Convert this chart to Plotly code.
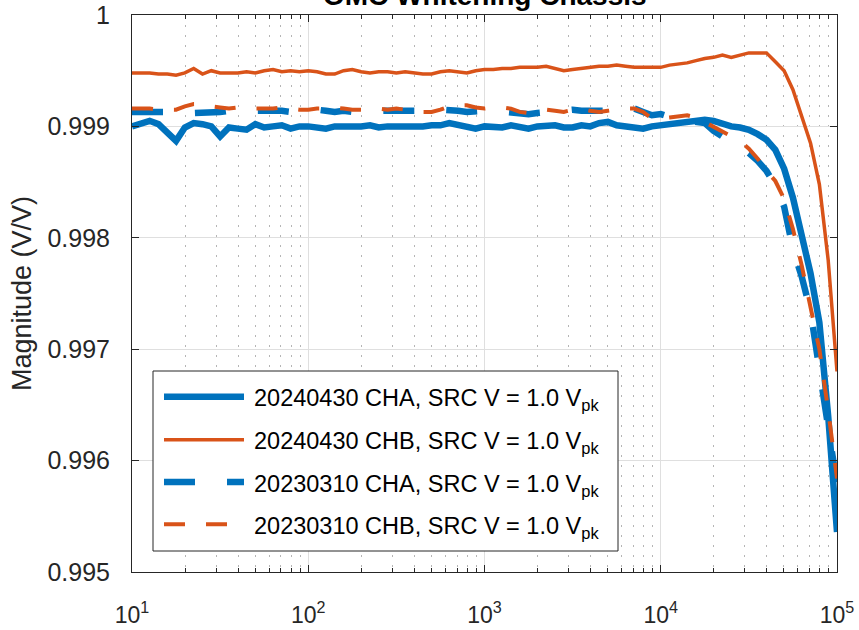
import plotly.graph_objects as go

# ---------------- data ----------------
freq_hz = [10, 11.22, 12.59, 14.13, 15.85, 17.78, 19.95, 22.39, 25.12, 28.18,
           31.62, 35.48, 39.81, 44.67, 50.12, 56.23, 63.10, 70.79, 79.43, 89.13,
           100, 112.2, 125.9, 141.3, 158.5, 177.8, 199.5, 223.9, 251.2, 281.8,
           316.2, 354.8, 398.1, 446.7, 501.2, 562.3, 631.0, 707.9, 794.3, 891.3,
           1000, 1122, 1259, 1413, 1585, 1778, 1995, 2239, 2512, 2818,
           3162, 3548, 3981, 4467, 5012, 5623, 6310, 7079, 7943, 8913,
           10000, 11220, 12590, 14130, 15850, 17780, 19950, 22390, 25120, 28180,
           31620, 35480, 39810, 44670, 50120, 56230, 63100, 70790, 79430, 89130,
           100000]

cha_2024 = [0.99900, 0.99902, 0.99905, 0.99902, 0.99894, 0.99887, 0.99899, 0.99903, 0.99902, 0.99900,
            0.99891, 0.99899, 0.99898, 0.99897, 0.99902, 0.99899, 0.99900, 0.99901, 0.99898, 0.99900,
            0.99900, 0.99899, 0.99898, 0.99900, 0.99900, 0.99899, 0.99900, 0.99901, 0.99899, 0.99900,
            0.99900, 0.99899, 0.99900, 0.99900, 0.99901, 0.99901, 0.99903, 0.99901, 0.99899, 0.99898,
            0.99900, 0.99900, 0.99899, 0.99901, 0.99899, 0.99898, 0.99900, 0.99900, 0.99901, 0.99899,
            0.99899, 0.99901, 0.99900, 0.99903, 0.99904, 0.99901, 0.99900, 0.99899, 0.99898, 0.99900,
            0.99901, 0.99902, 0.99903, 0.99904, 0.99905, 0.99906, 0.99905, 0.99902, 0.99900, 0.99899,
            0.99897, 0.99893, 0.99888, 0.99879, 0.99862, 0.99836, 0.99804, 0.99768, 0.99724, 0.99640,
            0.99536]

chb_2024 = [0.99948, 0.99948, 0.99948, 0.99947, 0.99947, 0.99946, 0.99948, 0.99952, 0.99947, 0.99950,
            0.99948, 0.99948, 0.99948, 0.99949, 0.99948, 0.99950, 0.99951, 0.99949, 0.99950, 0.99949,
            0.99950, 0.99949, 0.99947, 0.99947, 0.99950, 0.99951, 0.99949, 0.99948, 0.99949, 0.99949,
            0.99948, 0.99949, 0.99948, 0.99947, 0.99947, 0.99949, 0.99950, 0.99949, 0.99948, 0.99950,
            0.99951, 0.99951, 0.99952, 0.99952, 0.99953, 0.99953, 0.99953, 0.99954, 0.99952, 0.99950,
            0.99951, 0.99952, 0.99953, 0.99954, 0.99954, 0.99955, 0.99954, 0.99953, 0.99953, 0.99953,
            0.99953, 0.99955, 0.99956, 0.99957, 0.99959, 0.99961, 0.99962, 0.99964, 0.99962, 0.99964,
            0.99966, 0.99966, 0.99966, 0.99958, 0.99950, 0.99933, 0.99908, 0.99885, 0.99848, 0.99780,
            0.99680]

cha_2023 = [0.99913, 0.99913, 0.99914, 0.99914, 0.99914, 0.99914, 0.99913, 0.99912, 0.99912, 0.99912,
            0.99913, 0.99914, 0.99914, 0.99915, 0.99915, 0.99915, 0.99914, 0.99914, 0.99913, 0.99914,
            0.99914, 0.99915, 0.99914, 0.99913, 0.99914, 0.99913, 0.99914, 0.99914, 0.99914, 0.99913,
            0.99914, 0.99914, 0.99913, 0.99914, 0.99914, 0.99915, 0.99915, 0.99914, 0.99913, 0.99914,
            0.99914, 0.99914, 0.99913, 0.99913, 0.99912, 0.99911, 0.99912, 0.99913, 0.99914, 0.99915,
            0.99915, 0.99914, 0.99914, 0.99914, 0.99913, 0.99914, 0.99915, 0.99916, 0.99913, 0.99910,
            0.99911, 0.99908, 0.99906, 0.99905, 0.99904, 0.99903, 0.99896, 0.99891, 0.99886, 0.99880,
            0.99876, 0.99869, 0.99860, 0.99847, 0.99828, 0.99790, 0.99765, 0.99734, 0.99683, 0.99625,
            0.99578]

chb_2023 = [0.99916, 0.99916, 0.99916, 0.99915, 0.99915, 0.99915, 0.99918, 0.99920, 0.99920, 0.99918,
            0.99917, 0.99916, 0.99917, 0.99917, 0.99916, 0.99916, 0.99916, 0.99917, 0.99916, 0.99915,
            0.99915, 0.99916, 0.99916, 0.99917, 0.99916, 0.99915, 0.99915, 0.99916, 0.99916, 0.99915,
            0.99916, 0.99915, 0.99914, 0.99913, 0.99913, 0.99915, 0.99918, 0.99919, 0.99919, 0.99917,
            0.99916, 0.99917, 0.99917, 0.99916, 0.99913, 0.99912, 0.99913, 0.99915, 0.99914, 0.99913,
            0.99915, 0.99916, 0.99914, 0.99913, 0.99914, 0.99915, 0.99916, 0.99916, 0.99913, 0.99907,
            0.99907, 0.99908, 0.99909, 0.99910, 0.99908, 0.99904, 0.99900, 0.99896, 0.99891, 0.99887,
            0.99880, 0.99871, 0.99860, 0.99851, 0.99835, 0.99808, 0.99775, 0.99737, 0.99700, 0.99645,
            0.99584]

series_names = ["20240430 CHA, SRC V = 1.0 V<sub>pk</sub>",
                "20240430 CHB, SRC V = 1.0 V<sub>pk</sub>",
                "20230310 CHA, SRC V = 1.0 V<sub>pk</sub>",
                "20230310 CHB, SRC V = 1.0 V<sub>pk</sub>"]

x_tick_vals = [10, 100, 1000, 10000, 100000]
x_tick_text = ["10<sup>1</sup>", "10<sup>2</sup>", "10<sup>3</sup>", "10<sup>4</sup>", "10<sup>5</sup>"]
y_tick_vals = [0.995, 0.996, 0.997, 0.998, 0.999, 1.0]
y_tick_text = ["0.995", "0.996", "0.997", "0.998", "0.999", "1"]

title_text = "OMC Whitening Chassis"
y_label = "Magnitude (V/V)"

# ---------------- style ----------------
BLUE = "#0072BD"
ORANGE = "#D95319"
AX = "#262626"
FONT = "Liberation Sans"

styles = [
    dict(color=BLUE, width=6.5, dash="solid"),
    dict(color=ORANGE, width=3.5, dash="solid"),
    dict(color=BLUE, width=6.5, dash="31px,32px"),
    dict(color=ORANGE, width=4, dash="21px,21px"),
]

W, H = 859, 630
ML, MR, MT, MB = 132, 22, 15, 58


def px_x(px):
    return (px - ML) / (W - ML - MR)


def px_y(py):
    return (H - MB - py) / (H - MT - MB)


minor_vals = [m * 10 ** e for e in range(1, 5) for m in range(2, 10)]

fig = go.Figure()
for vals, name, st in zip([cha_2024, chb_2024, cha_2023, chb_2023], series_names, styles):
    fig.add_trace(go.Scatter(x=freq_hz, y=vals, mode="lines", name=name,
                             line=st, showlegend=False, hoverinfo="skip"))

fig.update_layout(
    width=W, height=H,
    margin=dict(l=ML, r=MR, t=MT, b=MB, autoexpand=False),
    paper_bgcolor="white", plot_bgcolor="white",
    font=dict(family=FONT, color=AX),
    showlegend=False,
)

fig.update_xaxes(
    type="log", range=[1, 5],
    tickmode="array", tickvals=x_tick_vals, ticktext=x_tick_text,
    tickfont=dict(size=23, color=AX, family=FONT),
    ticks="inside", ticklen=7, tickwidth=1, tickcolor=AX,
    showline=True, linecolor=AX, linewidth=1, mirror="allticks",
    showgrid=True, gridcolor="#dfdfdf", gridwidth=1,
    zeroline=False, ticklabelstandoff=22,
    minor=dict(tickmode="array", tickvals=minor_vals, ticks="inside", ticklen=4,
               tickwidth=1, tickcolor=AX, showgrid=True, gridcolor="#b5b5b5",
               gridwidth=1, griddash="2px,8px"),
)

fig.update_yaxes(
    range=[0.995, 1.0],
    tickmode="array", tickvals=y_tick_vals, ticktext=y_tick_text,
    tickfont=dict(size=25, color=AX, family=FONT),
    ticks="inside", ticklen=7, tickwidth=1, tickcolor=AX,
    showline=True, linecolor=AX, linewidth=1, mirror="allticks",
    showgrid=True, gridcolor="#dfdfdf", gridwidth=1,
    zeroline=False, ticklabelstandoff=16,
    title=dict(text=y_label, font=dict(size=27, color=AX, family=FONT), standoff=7),
)

# title (partly cut off at the top, like the reference)
fig.add_annotation(text="<b>" + title_text + "</b>", xref="paper", yref="paper",
                   x=0.5, y=px_y(-5), xanchor="center", yanchor="middle",
                   showarrow=False, font=dict(size=28, color="black", family=FONT))

# legend box (MATLAB style)
shapes = [dict(type="rect", xref="paper", yref="paper",
               x0=px_x(153), x1=px_x(618), y0=px_y(551), y1=px_y(371),
               line=dict(color=AX, width=1), fillcolor="white", layer="above")]
row_y = [396.7, 439.7, 482.0, 524.3]
for ry, st, name in zip(row_y, styles, series_names):
    shapes.append(dict(type="line", xref="paper", yref="paper",
                       x0=px_x(164), x1=px_x(244), y0=px_y(ry), y1=px_y(ry),
                       line=dict(color=st["color"], width=st["width"], dash=st["dash"]),
                       layer="above"))
    fig.add_annotation(text=name, xref="paper", yref="paper",
                       x=px_x(252), y=px_y(ry + 3), xanchor="left", yanchor="middle",
                       showarrow=False, font=dict(size=23.5, color="black", family=FONT))
fig.update_layout(shapes=shapes)

fig.write_html("out.html",
               config={"displayModeBar": False, "staticPlot": True},
               post_script="document.body.style.margin='0';document.body.style.overflow='hidden';")
